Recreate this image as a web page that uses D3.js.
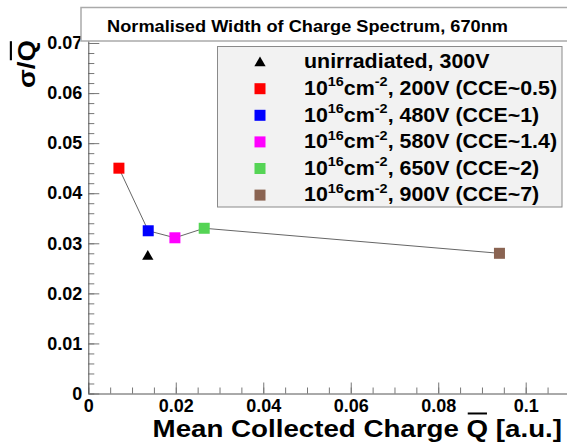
<!DOCTYPE html>
<html>
<head>
<meta charset="utf-8">
<script src="https://cdn.jsdelivr.net/npm/d3@7"></script>
<style>
  body { margin: 0; background: #fff; }
  svg { display: block; }
  text { font-family: "Liberation Sans", Arial, sans-serif; font-weight: bold; fill: #000; }
</style>
</head>
<body>
<svg id="chart" width="567" height="447"></svg>
<script>
// ---- data -------------------------------------------------------------
const titleText = "Normalised Width of Charge Spectrum, 670nm";
const legendLabels = [
  "unirradiated, 300V",
  "10^{16}cm^{-2}, 200V (CCE~0.5)",
  "10^{16}cm^{-2}, 480V (CCE~1)",
  "10^{16}cm^{-2}, 580V (CCE~1.4)",
  "10^{16}cm^{-2}, 650V (CCE~2)",
  "10^{16}cm^{-2}, 900V (CCE~7)"
];
const meanCharge = [0.0136, 0.0070, 0.0137, 0.0198, 0.0265, 0.0940];
const relWidth   = [0.0275, 0.0450, 0.0325, 0.0311, 0.0330, 0.0280];
const markerShapes = ["triangle", "square", "square", "square", "square", "square"];
const markerColors = ["#000000", "#ff0000", "#0000ff", "#ff00ff", "#55d455", "#8a6452"];
const connected = [1, 2, 3, 4, 5];           // irradiated points joined by a line
const xTickValues = [0, 0.02, 0.04, 0.06, 0.08, 0.1];
const yTickValues = [0, 0.01, 0.02, 0.03, 0.04, 0.05, 0.06, 0.07];
const xTickLabels = ["0", "0.02", "0.04", "0.06", "0.08", "0.1"];
const yTickLabels = ["0", "0.01", "0.02", "0.03", "0.04", "0.05", "0.06", "0.07"];

// ---- layout -----------------------------------------------------------
const SX = 1.07;                 // horizontal glyph stretch for legend / title
const svg = d3.select("#chart");
const x = d3.scaleLinear().domain([0, 0.11]).range([88.3, 88.3 + 0.11 * 4374]);
const y = d3.scaleLinear().domain([0, 0.075]).range([393.5, 393.5 - 0.075 * 5007]);

const axisColor = "#555";
const tickColor = "#777";

// minor ticks
const xMinor = d3.range(0, 23).map(i => i * 0.005);
const yMinor = d3.range(0, 38).map(i => i * 0.002);

svg.append("g")
  .attr("transform", `translate(0,${y(0)})`)
  .call(d3.axisBottom(x).tickValues(xMinor).tickSize(-6).tickSizeOuter(0).tickFormat(""))
  .call(g => g.select(".domain").remove())
  .call(g => g.selectAll("line").attr("stroke", tickColor));

svg.append("g")
  .attr("transform", `translate(${x(0)},0)`)
  .call(d3.axisLeft(y).tickValues(yMinor).tickSize(-6).tickSizeOuter(0).tickFormat(""))
  .call(g => g.select(".domain").remove())
  .call(g => g.selectAll("line").attr("stroke", tickColor));

// major ticks with labels
svg.append("g")
  .attr("transform", `translate(0,${y(0)})`)
  .call(d3.axisBottom(x).tickValues(xTickValues).tickSize(-11).tickSizeOuter(0).tickPadding(6)
        .tickFormat((d, i) => xTickLabels[i]))
  .call(g => g.select(".domain").attr("stroke", axisColor))
  .call(g => g.selectAll("line").attr("stroke", tickColor))
  .call(g => g.selectAll("text").attr("font-size", 18).attr("fill", "#000")
        .attr("font-family", null));

svg.append("g")
  .attr("transform", `translate(${x(0)},0)`)
  .call(d3.axisLeft(y).tickValues(yTickValues).tickSize(-11).tickSizeOuter(0).tickPadding(6)
        .tickFormat((d, i) => yTickLabels[i]))
  .call(g => g.select(".domain").attr("stroke", axisColor))
  .call(g => g.selectAll("line").attr("stroke", tickColor))
  .call(g => g.selectAll("text").attr("font-size", 18).attr("fill", "#000")
        .attr("font-family", null));

// ---- axis titles ------------------------------------------------------
function titleWithBar(parent, transform, size, before, barred, after, anchor) {
  const g = parent.append("g").attr("transform", transform);
  const t = g.append("text").attr("font-size", size).attr("text-anchor", anchor);
  t.append("tspan").text(before);
  t.append("tspan").text(barred);
  t.append("tspan").text(after);
  const node = t.node();
  const total = node.getComputedTextLength();
  const start = anchor === "end" ? -total : 0;
  const x0 = start + node.getSubStringLength(0, before.length);
  const w = node.getSubStringLength(before.length, barred.length);
  g.append("line")
    .attr("x1", x0 + 1).attr("x2", x0 + w - 1)
    .attr("y1", -size * 0.98).attr("y2", -size * 0.98)
    .attr("stroke", "#000").attr("stroke-width", 2);
}

titleWithBar(svg, `translate(562,437) scale(1.155,1)`, 24,
  "Mean Collected Charge ", "Q", " [a.u.]", "end");
titleWithBar(svg, `translate(35,40) rotate(-90) scale(1.2,${SX})`, 23,
  "\u03C3/", "Q", "", "end");

// ---- data marks -------------------------------------------------------
const lineGen = d3.line().x(i => x(meanCharge[i])).y(i => y(relWidth[i]));
const order = connected.slice().sort((a, b) => meanCharge[a] - meanCharge[b]);
svg.append("path")
  .attr("d", lineGen(order))
  .attr("fill", "none").attr("stroke", "#666").attr("stroke-width", 1);

function drawMarker(parent, shape, color, cx, cy) {
  if (shape === "triangle") {
    parent.append("path")
      .attr("d", d3.symbol(d3.symbolTriangle, 55)())
      .attr("transform", `translate(${cx},${cy + 0.8})`)
      .attr("fill", color);
  } else {
    parent.append("rect")
      .attr("x", cx - 5.5).attr("y", cy - 5.5)
      .attr("width", 11).attr("height", 11)
      .attr("fill", color);
  }
}

const marks = svg.append("g");
meanCharge.forEach((q, i) => {
  drawMarker(marks, markerShapes[i], markerColors[i], x(q), y(relWidth[i]));
});

// ---- legend -----------------------------------------------------------
const legend = svg.append("g");
legend.append("rect")
  .attr("x", 217.5).attr("y", 46.5).attr("width", 344.5).attr("height", 160.5)
  .attr("fill", "#f2f2f2").attr("stroke", "#8a8a8a").attr("stroke-width", 1);

function richText(textSel, str, supSize, raise) {
  const parts = str.split(/\^\{([^}]*)\}/);
  let shift = 0;
  parts.forEach((p, i) => {
    const isSup = i % 2 === 1;
    const target = isSup ? -raise : 0;
    if (!p) return;
    const ts = textSel.append("tspan").text(p).attr("dy", target - shift);
    if (isSup) ts.attr("font-size", supSize);
    shift = target;
  });
}

legendLabels.forEach((lab, i) => {
  const base = 68.3 + 26.6 * i;
  drawMarker(legend, markerShapes[i], markerColors[i], 260, base - 6.2);
  const g = legend.append("g").attr("transform", `translate(304,${base}) scale(${SX},1)`);
  const t = g.append("text").attr("font-size", 20);
  richText(t, lab, 13.5, 8.5);
});

// ---- title box --------------------------------------------------------
svg.append("rect")
  .attr("x", 81).attr("y", 7.5).attr("width", 490).attr("height", 33.5)
  .attr("fill", "#fff").attr("stroke", "#aaa").attr("stroke-width", 1.5);
svg.append("g")
  .attr("transform", `translate(307.5,32.3) scale(${SX},1)`)
  .append("text").attr("font-size", 17).attr("text-anchor", "middle")
  .text(titleText);
</script>
</body>
</html>
